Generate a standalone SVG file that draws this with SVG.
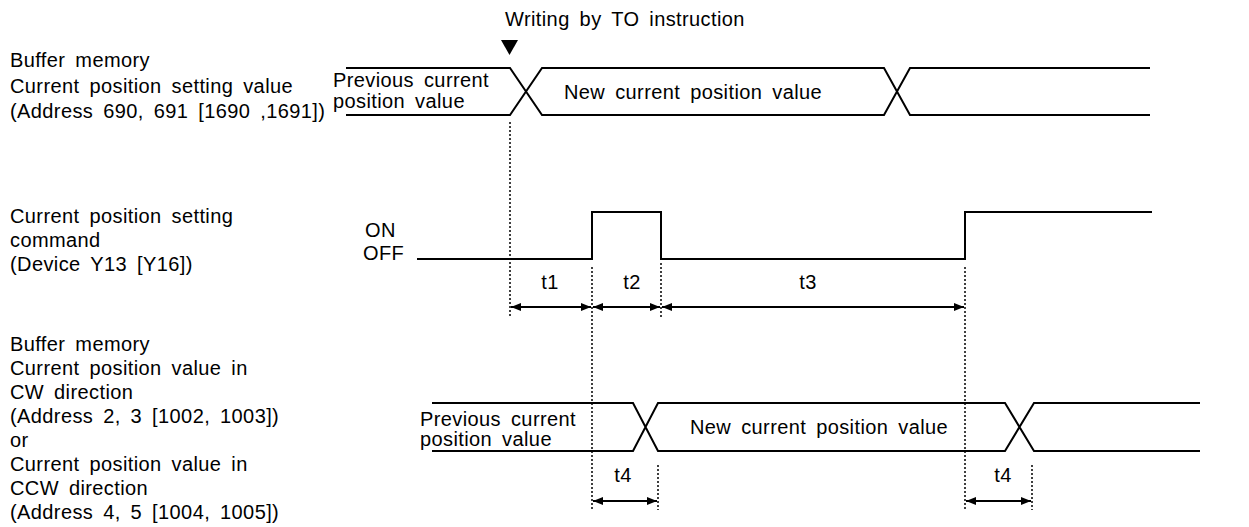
<svg xmlns="http://www.w3.org/2000/svg" width="1249" height="527" viewBox="0 0 1249 527">
<defs>
<marker id="ah" viewBox="0 0 10 8" refX="10" refY="4" markerWidth="10" markerHeight="8" markerUnits="userSpaceOnUse" orient="auto-start-reverse">
<path d="M0,0 L10,4 L0,8 Z" fill="#000"/>
</marker>
<style>
text{font-family:"Liberation Sans",Arial,sans-serif;font-size:20px;letter-spacing:0.4px;word-spacing:4px;fill:#000}
.w{fill:none;stroke:#000;stroke-width:2}
.d{fill:none;stroke:#000;stroke-width:1.5;stroke-dasharray:2 2}
.a{fill:none;stroke:#000;stroke-width:2;marker-start:url(#ah);marker-end:url(#ah)}
.m{text-anchor:middle}
</style>
</defs>
<rect width="1249" height="527" fill="#fff"/>
<g id="title">
<text x="505" y="26">Writing by TO instruction</text>
<polygon points="501,40 518,40 509.5,55" fill="#000"/>
</g>
<g id="label-setting-value">
<text x="10" y="67">Buffer memory</text>
<text x="10" y="93">Current position setting value</text>
<text x="10" y="118">(Address 690, 691 [1690 ,1691])</text>
</g>
<g id="wave-setting-value">
<path class="w" d="M346,68 H510 L542,115 H884 L910,68 H1150 M346,115 H510 L542,68 H884 L910,115 H1150"/>
<text x="333" y="87">Previous current</text>
<text x="333" y="108">position value</text>
<text x="564" y="99">New current position value</text>
</g>
<g id="label-command">
<text x="10" y="223">Current position setting</text>
<text x="10" y="247">command</text>
<text x="10" y="271">(Device Y13 [Y16])</text>
<text x="365" y="237">ON</text>
<text x="363" y="260">OFF</text>
</g>
<g id="wave-command">
<path class="w" d="M417,259 H592 V212 H661 V259 H965 V212 H1152"/>
</g>
<g id="label-current-value">
<text x="10" y="351">Buffer memory</text>
<text x="10" y="375">Current position value in</text>
<text x="10" y="399">CW direction</text>
<text x="10" y="423">(Address 2, 3 [1002, 1003])</text>
<text x="10" y="447">or</text>
<text x="10" y="471">Current position value in</text>
<text x="10" y="495">CCW direction</text>
<text x="10" y="519">(Address 4, 5 [1004, 1005])</text>
</g>
<g id="wave-current-value">
<path class="w" d="M432,403 H633 L658,451 H1005 L1034,403 H1200 M432,451 H633 L658,403 H1005 L1034,451 H1200"/>
<text x="420" y="426">Previous current</text>
<text x="420" y="446">position value</text>
<text x="690" y="434">New current position value</text>
</g>
<g id="connectors">
<path class="d" d="M510,122 V318 M592,267 V510 M661,263 V318 M965,267 V510 M658,465 V510 M1032,465 V510"/>
<line class="a" x1="511" y1="307" x2="591" y2="307"/>
<line class="a" x1="593" y1="307" x2="660" y2="307"/>
<line class="a" x1="662" y1="307" x2="964" y2="307"/>
<line class="a" x1="593" y1="501" x2="657" y2="501"/>
<line class="a" x1="966" y1="501" x2="1031" y2="501"/>
</g>
<g id="time-labels">
<text class="m" x="550" y="289">t1</text>
<text class="m" x="632" y="289">t2</text>
<text class="m" x="808" y="289">t3</text>
<text class="m" x="623" y="482">t4</text>
<text class="m" x="1003" y="482">t4</text>
</g>
</svg>
